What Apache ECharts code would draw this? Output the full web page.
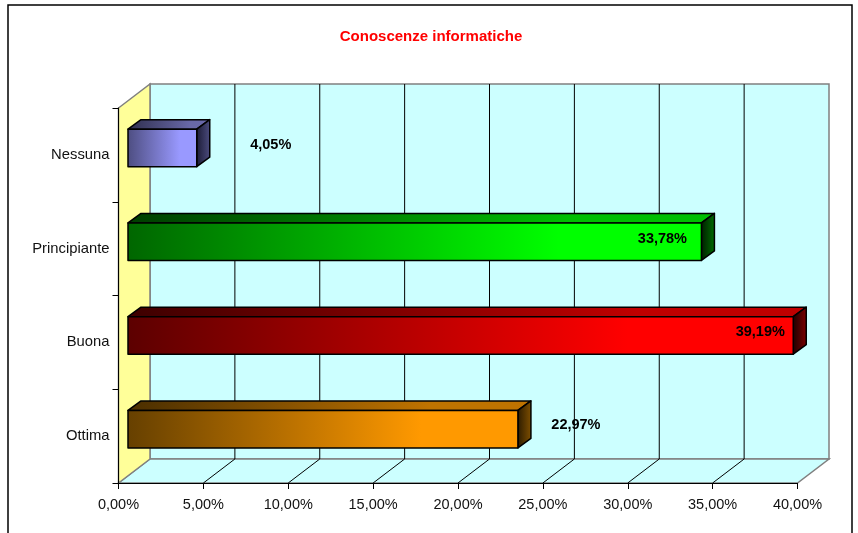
<!DOCTYPE html>
<html><head><meta charset="utf-8">
<style>html,body{margin:0;padding:0;background:#fff}#c{width:858px;height:533px}</style>
<script src="https://cdn.jsdelivr.net/npm/echarts@6/dist/echarts.min.js"></script>
</head><body><div id="c"></div>
<script>
const titleText = 'Conoscenze informatiche';
const categories = ['Ottima', 'Buona', 'Principiante', 'Nessuna'];
const values = [22.97, 39.19, 33.78, 4.05];
const valueLabels = ['22,97%', '39,19%', '33,78%', '4,05%'];
const tickValues = [0, 5, 10, 15, 20, 25, 30, 35, 40];

const FONT = '"Liberation Sans", Arial, sans-serif';
const DX = 31.5, DY = -24;              // depth of the chart box
const BAR = {dx: 13, dy: -9.5, shiftX: 9.5, shiftY: -7, ratio: 0.4};
const labelShift = [58, -33, -39, 74];
const labelRise = [-4, -3, -3, -3];
const palette = [
  {dark: '#664000', full: '#ff9900', topD: '#4a2e00', topF: '#bf7300', sideD: '#2a1a00', sideF: '#805000'},
  {dark: '#5c0000', full: '#ff0000', topD: '#3d0000', topF: '#bf0000', sideD: '#1a0000', sideF: '#800000'},
  {dark: '#006600', full: '#00ff00', topD: '#003d00', topF: '#00bf00', sideD: '#001a00', sideF: '#007000'},
  {dark: '#4d4d80', full: '#9999ff', topD: '#2e2e4d', topF: '#6868a8', sideD: '#1a1a33', sideF: '#4d4d80'}
];
const grad = (a, b, stop) => ({type: 'linear', x: 0, y: 0, x2: 1, y2: 0, colorStops: [{offset: 0, color: a}, {offset: stop, color: b}, {offset: 1, color: b}]});

function renderWalls(params, api) {
  const r = params.coordSys;
  const l = r.x, t = r.y, b = r.y + r.height, e = r.x + r.width;
  const wall = {stroke: '#808080', lineWidth: 1.5};
  const kids = [
    {type: 'polygon', shape: {points: [[l + DX, t + DY], [e + DX, t + DY], [e + DX, b + DY], [l + DX, b + DY]]}, style: Object.assign({fill: '#ccffff'}, wall)},
    {type: 'polygon', shape: {points: [[l, b], [l + DX, b + DY], [e + DX, b + DY], [e, b]]}, style: Object.assign({fill: '#ccffff'}, wall)},
    {type: 'polygon', shape: {points: [[l, t], [l + DX, t + DY], [l + DX, b + DY], [l, b]]}, style: Object.assign({fill: '#ffff99'}, wall)}
  ];
  tickValues.forEach(v => {
    if (v === 0 || v === 40) return;
    const x = api.coord([v, 0])[0];
    kids.push({type: 'line', shape: {x1: x + DX, y1: t + DY, x2: x + DX, y2: b + DY}, style: {stroke: '#000', lineWidth: 1}});
    kids.push({type: 'line', shape: {x1: x, y1: b, x2: x + DX, y2: b + DY}, style: {stroke: '#000', lineWidth: 1}});
  });
  return {type: 'group', children: kids};
}

function renderBar(params, api) {
  const i = api.value(1), v = api.value(0);
  const p0 = api.coord([0, i]), p1 = api.coord([v, i]);
  const h = api.size([0, 1])[1] * BAR.ratio;
  const x0 = p0[0] + BAR.shiftX, x1 = p1[0] + BAR.shiftX;
  const cy = p0[1] + BAR.shiftY, y0 = cy - h / 2, y1 = cy + h / 2;
  const c = palette[i];
  const line = {stroke: '#000', lineWidth: 1.5, lineJoin: 'round'};
  return {type: 'group', children: [
    {type: 'polygon', shape: {points: [[x0, y0], [x0 + BAR.dx, y0 + BAR.dy], [x1 + BAR.dx, y0 + BAR.dy], [x1, y0]]}, style: Object.assign({fill: grad(c.topD, c.topF, 0.75)}, line)},
    {type: 'polygon', shape: {points: [[x1, y0], [x1 + BAR.dx, y0 + BAR.dy], [x1 + BAR.dx, y1 + BAR.dy], [x1, y1]]}, style: Object.assign({fill: grad(c.sideD, c.sideF, 1)}, line)},
    {type: 'rect', shape: {x: x0, y: y0, width: x1 - x0, height: h}, style: Object.assign({fill: grad(c.dark, c.full, 0.75)}, line)},
    {type: 'text', z2: 5, style: {x: x1 + labelShift[i], y: cy + labelRise[i], text: valueLabels[i], align: 'center', verticalAlign: 'middle', fill: '#000', font: 'bold 14.5px ' + FONT}}
  ]};
}

const chart = echarts.init(document.getElementById('c'), null, {renderer: 'canvas'});
chart.setOption({
  animation: false,
  backgroundColor: '#fff',
  title: {text: titleText, left: 426, top: 24.5, textAlign: 'center', textStyle: {color: '#ff0000', fontWeight: 'bold', fontSize: 15, fontFamily: FONT}},
  grid: {left: 118.5, right: 60.5, top: 108, bottom: 50, containLabel: false},
  xAxis: {type: 'value', min: 0, max: 40, interval: 5, z: 3,
    splitLine: {show: false},
    axisLine: {show: true, lineStyle: {color: '#000', width: 1}},
    axisTick: {show: true, length: 6, lineStyle: {color: '#000', width: 1}},
    axisLabel: {margin: 14, color: '#111', fontSize: 14.5, fontFamily: FONT, formatter: v => v.toFixed(2).replace('.', ',') + '%'}},
  yAxis: {type: 'category', data: categories, z: 3,
    axisLine: {show: true, onZero: false, lineStyle: {color: '#000', width: 1}},
    axisTick: {show: true, length: 6, lineStyle: {color: '#000', width: 1}},
    axisLabel: {margin: 9, color: '#111', fontSize: 14.8, fontFamily: FONT, padding: [3, 0, 0, 0]}},
  graphic: [{type: 'rect', z: -1, silent: true, shape: {x: 8, y: 5, width: 844, height: 560}, style: {fill: 'none', stroke: '#000', lineWidth: 1.5}}],
  series: [
    {type: 'custom', name: 'walls', z: 1, silent: true, renderItem: renderWalls, data: [[0, 0]], encode: {x: 0, y: 1}},
    {type: 'custom', name: 'bars', z: 4, silent: true, renderItem: renderBar, data: values.map((v, i) => [v, i]), encode: {x: 0, y: 1}}
  ]
});
</script></body></html>
